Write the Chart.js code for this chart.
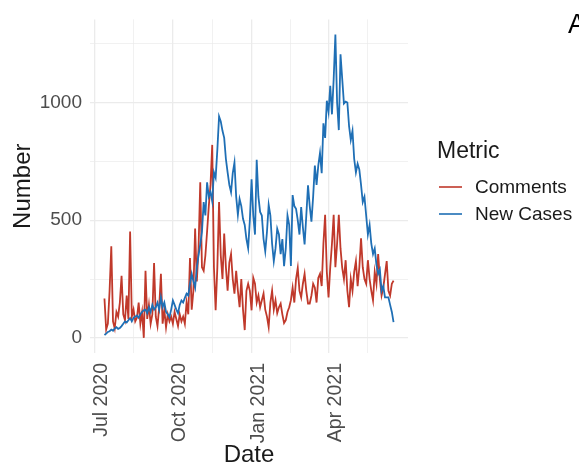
<!DOCTYPE html>
<html>
<head>
<meta charset="utf-8">
<script src="https://cdn.jsdelivr.net/npm/chart.js@4.4.0/dist/chart.umd.min.js"></script>
<style>
html, body { margin: 0; padding: 0; background: #fff; }
#wrap { width: 579px; height: 466px; position: relative; }
</style>
</head>
<body>
<div id="wrap"><canvas id="myChart"></canvas></div>
<script>
// series start and spacing (one value every second day)
var firstDate = '2020-07-13';
var stepDays = 2;

var comments = [
  167, 35, 60, 200, 389, 70, 40, 110, 90, 150,
  264, 100, 75, 180, 80, 452, 90, 120, 70, 85,
  150, 60, 110, 0, 285, 80, 140, 60, 100, 318,
  90, 50, 130, 272, 60, 120, 45, 100, 70, 90,
  60, 110, 80, 50, 100, 70, 90, 60, 150, 100,
  339, 120, 200, 465, 240, 380, 661, 300, 285, 350,
  452, 560, 650, 820, 300, 117, 300, 577, 350, 250,
  443, 300, 200, 320, 356, 250, 188, 285, 200, 130,
  250, 120, 33, 200,
  230, 200, 117, 255, 230, 150, 180, 130, 160, 188,
  120, 90, 46, 150, 200, 120, 160, 105, 130, 146,
  100, 63, 75, 110, 130, 160, 213, 150, 250, 297,
  200, 172, 230, 272, 200, 146, 146, 180, 230, 213,
  150, 255, 272, 220, 400, 523, 280, 172,
  300, 400, 523, 300, 400, 523, 380, 297, 250, 330,
  200, 130, 250, 200, 280, 326, 220, 300, 423, 300,
  250, 230, 330, 250, 200, 159, 280, 230, 356, 250,
  180, 213, 270, 326, 200, 180, 230, 243
];

var newCases = [
  12, 18, 25, 28, 35, 30, 40, 45, 38, 42,
  50, 60, 70, 65, 75, 84, 70, 85, 90, 95,
  85, 100, 110, 117, 120, 105, 130, 110, 140, 120,
  130, 150, 120, 172, 130, 150, 110, 100, 88, 120,
  159, 140, 120, 105, 140, 159, 150, 170, 188, 180,
  230, 272, 240, 213,
  300, 350, 397, 450, 577, 520, 661, 600, 619, 580,
  703, 680, 800, 941, 920, 880, 850, 760, 703, 650,
  619, 700, 745, 600, 523, 590, 560, 506, 480, 420,
  381, 500, 674, 520, 439, 757, 600, 535, 520, 420,
  368, 450, 565, 520, 400, 326, 380, 464, 440, 356,
  420, 305, 380, 520, 480, 305, 607, 560, 548, 500,
  439, 556, 470, 397, 520, 648, 560, 494, 600, 732,
  650, 732, 786, 700, 912, 850, 1008, 960, 1071, 950,
  1100, 1289, 1000, 883, 1205, 1100, 996, 1004, 1000, 900,
  841, 880, 760, 703, 740, 715, 650, 577, 600, 520,
  439, 480, 400, 356, 380, 310, 272, 290, 200, 220,
  172, 172, 172, 140, 110, 67
];

var tickDates = ['2020-07-01', '2020-10-01', '2021-01-01', '2021-04-01'];
var tickLabels = ['Jul 2020', 'Oct 2020', 'Jan 2021', 'Apr 2021'];
var yTicks = [0, 500, 1000];

var origin = Date.parse('2020-07-01');
function dayNum(s) {
  return (Date.parse(s) - origin) / 86400000;
}

var x0 = dayNum(firstDate);
function toPoints(arr) {
  return arr.map(function (v, i) { return { x: x0 + i * stepDays, y: v }; });
}

// major ticks and the minor lines between them
var majorX = tickDates.map(dayNum);
var minorX = [];
for (var i = 0; i < majorX.length - 1; i++) minorX.push((majorX[i] + majorX[i + 1]) / 2);
minorX.push(majorX[majorX.length - 1] + (majorX[majorX.length - 1] - majorX[majorX.length - 2]) / 2);
var allX = majorX.concat(minorX).sort(function (a, b) { return a - b; });

var yStep = yTicks[1] - yTicks[0];
var allY = [];
for (var v = 0; v <= 1250; v += yStep / 2) allY.push(v);

// ggplot-like 5% expansion
var n = Math.max(comments.length, newCases.length);
var xLast = x0 + (n - 1) * stepDays;
var xPad = (xLast - x0) * 0.05;
var yMax = Math.max.apply(null, comments.concat(newCases));
var yPad = yMax * 0.05;

var FONT = '"Liberation Sans", Arial, sans-serif';

var extras = {
  id: 'extras',
  afterDraw: function (chart) {
    var c = chart.ctx;
    c.save();
    c.fillStyle = '#000';
    c.font = '27px ' + FONT;
    c.textBaseline = 'alphabetic';
    c.fillText('A', 568, 33);

    c.font = '23px ' + FONT;
    c.fillStyle = '#1a1a1a';
    c.fillText('Metric', 437, 158);

    var items = chart.data.datasets;
    var rows = [187, 214];
    c.font = '19px ' + FONT;
    c.textBaseline = 'middle';
    for (var k = 0; k < items.length; k++) {
      c.strokeStyle = items[k].borderColor;
      c.lineWidth = 1.6;
      c.beginPath();
      c.moveTo(439, rows[k]);
      c.lineTo(462, rows[k]);
      c.stroke();
      c.fillStyle = '#1a1a1a';
      c.fillText(items[k].label, 475, rows[k] + 1);
    }
    c.restore();
  }
};

var ctx = document.getElementById('myChart').getContext('2d');
var myChart = new Chart(ctx, {
  type: 'line',
  data: {
    datasets: [
      {
        label: 'Comments',
        data: toPoints(comments),
        borderColor: '#C0392B',
        borderWidth: 1.8,
        pointRadius: 0,
        tension: 0,
        order: 1
      },
      {
        label: 'New Cases',
        data: toPoints(newCases),
        borderColor: '#1F6FB5',
        borderWidth: 1.8,
        pointRadius: 0,
        tension: 0,
        order: 0
      }
    ]
  },
  options: {
    responsive: true,
    maintainAspectRatio: false,
    animation: false,
    events: [],
    layout: { padding: { left: 0, top: 13, right: 171, bottom: 0 } },
    plugins: {
      legend: { display: false },
      tooltip: { enabled: false }
    },
    scales: {
      x: {
        type: 'linear',
        min: x0 - xPad,
        max: xLast + xPad,
        afterBuildTicks: function (scale) {
          scale.ticks = allX.map(function (t) { return { value: t }; });
        },
        afterFit: function (scale) { scale.height = 113; },
        border: { display: false },
        grid: {
          drawTicks: false,
          color: '#EBEBEB',
          lineWidth: function (c) {
            return c.tick && majorX.indexOf(c.tick.value) >= 0 ? 1.3 : 0.7;
          }
        },
        ticks: {
          autoSkip: false,
          minRotation: 90,
          maxRotation: 90,
          padding: 10,
          labelOffset: 7,
          color: '#4D4D4D',
          font: { family: FONT, size: 19.5 },
          callback: function (value) {
            var k = majorX.indexOf(value);
            return k >= 0 ? tickLabels[k] : '';
          }
        },
        title: {
          display: true,
          text: 'Date',
          color: '#1a1a1a',
          font: { family: FONT, size: 24 },
          padding: { top: 0, bottom: -4 }
        }
      },
      y: {
        min: -yPad,
        max: yMax + yPad,
        afterBuildTicks: function (scale) {
          scale.ticks = allY.map(function (t) { return { value: t }; });
        },
        afterFit: function (scale) { scale.width = 90; },
        border: { display: false },
        grid: {
          drawTicks: false,
          color: '#EBEBEB',
          lineWidth: function (c) {
            return c.tick && yTicks.indexOf(c.tick.value) >= 0 ? 1.3 : 0.7;
          }
        },
        ticks: {
          padding: 8,
          color: '#4D4D4D',
          font: { family: FONT, size: 19 },
          callback: function (value) {
            return yTicks.indexOf(value) >= 0 ? String(value) : '';
          }
        },
        title: {
          display: true,
          text: 'Number',
          color: '#1a1a1a',
          font: { family: FONT, size: 24 },
          padding: { top: 9, bottom: 0 }
        }
      }
    }
  },
  plugins: [extras]
});
</script>
</body>
</html>
